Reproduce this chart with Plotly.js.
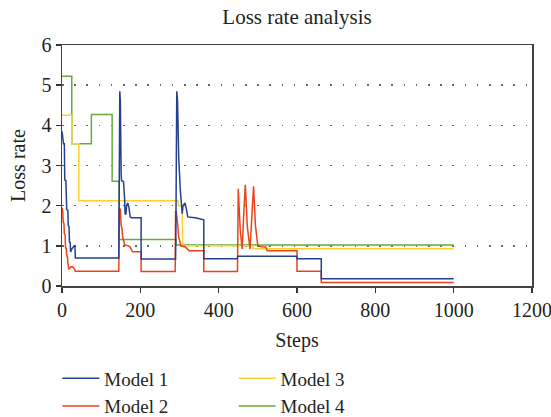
<!DOCTYPE html>
<html>
<head>
<meta charset="utf-8">
<script src="https://cdn.plot.ly/plotly-3.0.1.min.js"></script>
<style>
  html, body { margin: 0; padding: 0; background: #fff; }
  #chart { width: 551px; height: 417px; }
</style>
</head>
<body>
<div id="chart"></div>
<script>
// Loss rate per training step for four models
const model1Steps = [0, 3, 4, 6, 7, 10, 12, 15, 16, 18, 19, 21, 22, 25, 31, 33, 34, 145, 146, 147.5, 149, 151, 152, 157, 158, 160, 161, 163, 165, 168, 171, 174, 177, 202, 202, 290, 291, 293, 295, 298, 302, 305, 307, 309, 314, 318, 321, 340, 362, 362, 447, 449, 600, 600, 662, 662, 1000];
const model1Loss  = [3.85, 3.6, 3.54, 3.54, 2.64, 2.62, 1.9, 1.88, 1.5, 1.48, 1.1, 1.08, 0.85, 0.92, 1.0, 0.98, 0.7, 0.7, 2.0, 4.85, 4.6, 2.8, 2.62, 2.6, 2.2, 2.15, 1.8, 1.78, 2.0, 2.07, 1.95, 1.72, 1.7, 1.7, 0.67, 0.67, 1.8, 4.85, 4.6, 3.2, 2.4, 1.95, 1.8, 2.0, 2.07, 1.9, 1.72, 1.7, 1.65, 0.68, 0.68, 0.74, 0.74, 0.68, 0.68, 0.18, 0.18];

const model2Steps = [0, 2, 3, 5, 6, 8, 9, 11, 12, 14, 15, 16, 17, 20, 23, 27, 30, 32, 34, 145, 146, 149, 151, 153, 155, 157, 160, 170, 174, 177, 180, 202, 202, 289, 290, 292, 294, 296, 298, 300, 303, 310, 315, 320, 324, 362, 362, 448, 450, 455, 460, 464, 468, 473, 480, 484, 489, 494, 500, 510, 520, 524, 600, 600, 662, 662, 1000];
const model2Loss  = [1.95, 1.85, 1.6, 1.55, 1.3, 1.28, 0.95, 0.93, 0.75, 0.72, 0.55, 0.53, 0.42, 0.45, 0.48, 0.48, 0.45, 0.42, 0.37, 0.37, 1.95, 1.9, 1.5, 1.45, 1.2, 1.15, 1.02, 1.0, 0.97, 0.92, 0.85, 0.85, 0.36, 0.36, 1.85, 1.85, 1.5, 1.45, 1.2, 1.15, 1.0, 0.98, 0.97, 0.92, 0.88, 0.88, 0.36, 0.36, 2.42, 1.4, 0.92, 1.8, 2.52, 1.5, 0.92, 1.6, 2.48, 1.5, 1.0, 0.98, 0.97, 0.88, 0.88, 0.37, 0.37, 0.09, 0.09];

const model3Steps = [0, 25, 25, 43, 43, 296, 297, 307, 308, 488, 488, 1000];
const model3Loss  = [4.25, 4.25, 3.54, 3.54, 2.12, 2.12, 2.0, 2.0, 1.0, 1.0, 0.93, 0.93];

const model4Steps = [0, 25, 25, 75, 75, 128, 128, 146, 146, 291, 291, 1000];
const model4Loss  = [5.22, 5.22, 3.54, 3.54, 4.27, 4.27, 2.61, 2.61, 1.16, 1.16, 1.02, 1.02];

const xTicks = [0, 200, 400, 600, 800, 1000, 1200];
const yTicks = [0, 1, 2, 3, 4, 5, 6];

const FONT = '"Liberation Serif", "DejaVu Serif", serif';
const INK = '#231f20';
const SIZE = 20;

function series(name, x, y, color, legend) {
  return { type: 'scatter', mode: 'lines', name, x, y, legend,
           line: { color, width: 1.5 } };
}

// Blue drawn last so it sits on top
const traces = [
  series('Model 4', model4Steps, model4Loss, '#64ac3c', 'legend2'),
  series('Model 3', model3Steps, model3Loss, '#fcd12a', 'legend2'),
  series('Model 2', model2Steps, model2Loss, '#e9431b', 'legend'),
  series('Model 1', model1Steps, model1Loss, '#24408e', 'legend')
];

const legendBase = {
  orientation: 'v', traceorder: 'reversed', yanchor: 'top', xanchor: 'left',
  font: { family: FONT, size: 19, color: INK }, bgcolor: 'rgba(0,0,0,0)',
  itemwidth: 37, tracegroupgap: 0
};

const layout = {
  width: 551, height: 417,
  margin: { l: 62, r: 19, t: 45, b: 131, autoexpand: false },
  paper_bgcolor: '#fff', plot_bgcolor: '#fff',
  font: { family: FONT, size: SIZE, color: INK },
  title: { text: 'Loss rate analysis', font: { family: FONT, size: 21, color: INK },
           x: 0.5, xref: 'paper', xanchor: 'center', y: 0.96, yanchor: 'middle' },
  xaxis: {
    range: [0, 1200], tickvals: xTicks, ticktext: xTicks.map(String),
    ticks: 'outside', ticklen: 5, tickwidth: 1.5, tickcolor: '#333',
    showline: true, linecolor: '#444', linewidth: 1.5, mirror: true,
    showgrid: false, zeroline: false, ticklabeloverflow: 'allow',
    tickfont: { family: FONT, size: SIZE, color: INK },
    title: { text: 'Steps', font: { family: FONT, size: SIZE, color: INK }, standoff: 13 }
  },
  yaxis: {
    range: [0, 6], tickvals: yTicks, ticktext: yTicks.map(String),
    ticks: 'outside', ticklen: 5, tickwidth: 1.5, tickcolor: '#333',
    showline: true, linecolor: '#444', linewidth: 1.5, mirror: true,
    showgrid: true, gridcolor: '#666', gridwidth: 1.5, griddash: '1.5px,10.7px',
    zeroline: false,
    tickfont: { family: FONT, size: SIZE, color: INK },
    title: { text: 'Loss rate', font: { family: FONT, size: SIZE, color: INK }, standoff: 10 }
  },
  legend: Object.assign({}, legendBase, { x: -0.01, y: -0.305 }),
  legend2: Object.assign({}, legendBase, { x: 0.365, y: -0.305 }),
  showlegend: true
};

Plotly.newPlot('chart', traces, layout, { staticPlot: true, displayModeBar: false });
</script>
</body>
</html>
